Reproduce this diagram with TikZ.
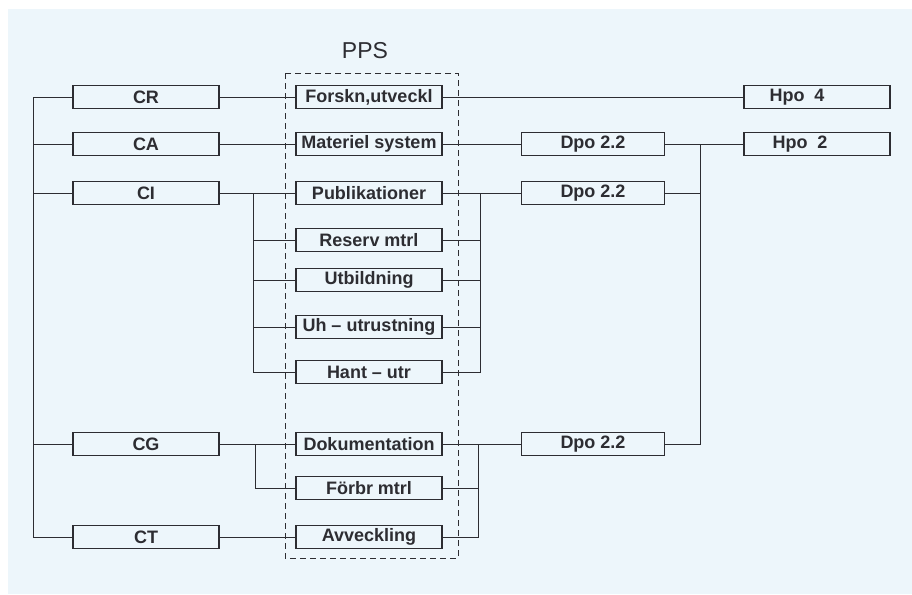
\documentclass[tikz,border=0pt]{standalone}
\usepackage{fontspec}
\setmainfont{Liberation Sans}
\usepackage{tikz}

\definecolor{paper}{RGB}{237,246,251}
\definecolor{ink}{RGB}{45,45,50}

\begin{document}
\begin{tikzpicture}[x=1pt,y=-1pt,
	box/.style={draw=ink, line width=1.1pt, fill=paper, minimum width=146pt, minimum height=23pt,
		inner sep=0pt, text=ink, font=\fontsize{18}{18}\selectfont\bfseries},
	wire/.style={draw=ink, line width=1pt}]
	\useasboundingbox (0,0) rectangle (912,594);
	\fill[white] (0,0) rectangle (912,594);
	\fill[paper] (8,9) rectangle (912,594);
	
	\def\xC{146}
	\def\xP{369}
	\def\xD{593}
	\def\xH{817}
	
	% left column
	\node[box] (CR) at (\xC,97) {CR};
	\node[box] (CA) at (\xC,144) {CA};
	\node[box] (CI) at (\xC,193) {CI};
	\node[box] (CG) at (\xC,444) {CG};
	\node[box] (CT) at (\xC,537) {CT};
	
	% PPS
	\draw[ink, dashed, line width=1pt, dash pattern=on 6pt off 4pt] (285,73) rectangle (458,558);
	\node[text=ink, font=\fontsize{23}{23}\selectfont] (PPS) at (365,51) {PPS};
	\node[box] (Fo) at (\xP,97) {Forskn,utveckl};
	\node[box] (Ma) at (\xP,144) {Materiel system};
	\node[box] (Pu) at (\xP,193) {Publikationer};
	\node[box] (Re) at (\xP,240) {Reserv mtrl};
	\node[box] (Ut) at (\xP,280) {Utbildning};
	\node[box] (Uh) at (\xP,327) {Uh -- utrustning};
	\node[box] (Ha) at (\xP,372) {Hant -- utr};
	\node[box] (Do) at (\xP,444) {Dokumentation};
	\node[box] (Fb) at (\xP,488) {Förbr mtrl};
	\node[box] (Av) at (\xP,537) {Avveckling};
	
	% right side
	\node[box, minimum width=143pt] (D1) at (\xD,144) {Dpo 2.2};
	\node[box, minimum width=143pt] (D2) at (\xD,193) {Dpo 2.2};
	\node[box, minimum width=143pt] (D3) at (\xD,444) {Dpo 2.2};
	\node[box] (H4) at (\xH,97) {Hpo\ \ 4\hspace*{40pt}};
	\node[box] (H2) at (\xH,144) {Hpo\ \ 2\hspace*{34pt}};
	
	\coordinate (LB) at (33,97);
	\coordinate (MB) at (253,193);
	\coordinate (NB) at (480,193);
	\coordinate (GB) at (255,444);
	\coordinate (OB) at (478,444);
	\coordinate (RB) at (700,144);
	
	% left bus
	\draw[wire] (CR.west) -| (LB) |- (CT.west);
	\foreach \n in {CA,CI,CG}
		\draw[wire] (\n.west) -- (\n.west -| LB);
	
	\draw[wire] (CR.east) -- (Fo.west);
	\draw[wire] (CA.east) -- (Ma.west);
	\draw[wire] (CI.east) -- (Pu.west);
	\draw[wire] (CG.east) -- (Do.west);
	\draw[wire] (CT.east) -- (Av.west);
	
	% CI branch
	\draw[wire] (MB) |- (Ha.west);
	\foreach \n in {Re,Ut,Uh}
		\draw[wire] (\n.west) -- (\n.west -| MB);
	\draw[wire] (Pu.east) -- (D2.west);
	\draw[wire] (NB) |- (Ha.east);
	\foreach \n in {Re,Ut,Uh}
		\draw[wire] (\n.east) -- (\n.east -| NB);
	
	% CG branch
	\draw[wire] (GB) |- (Fb.west);
	\draw[wire] (Do.east) -- (D3.west);
	\draw[wire] (OB) |- (Av.east);
	\draw[wire] (Fb.east) -- (Fb.east -| OB);
	
	% to Hpo
	\draw[wire] (Fo.east) -- (H4.west);
	\draw[wire] (Ma.east) -- (D1.west);
	\draw[wire] (D1.east) -- (H2.west);
	\draw[wire] (D2.east) -- (D2.east -| RB);
	\draw[wire] (RB) |- (D3.east);
\end{tikzpicture}
\end{document}
